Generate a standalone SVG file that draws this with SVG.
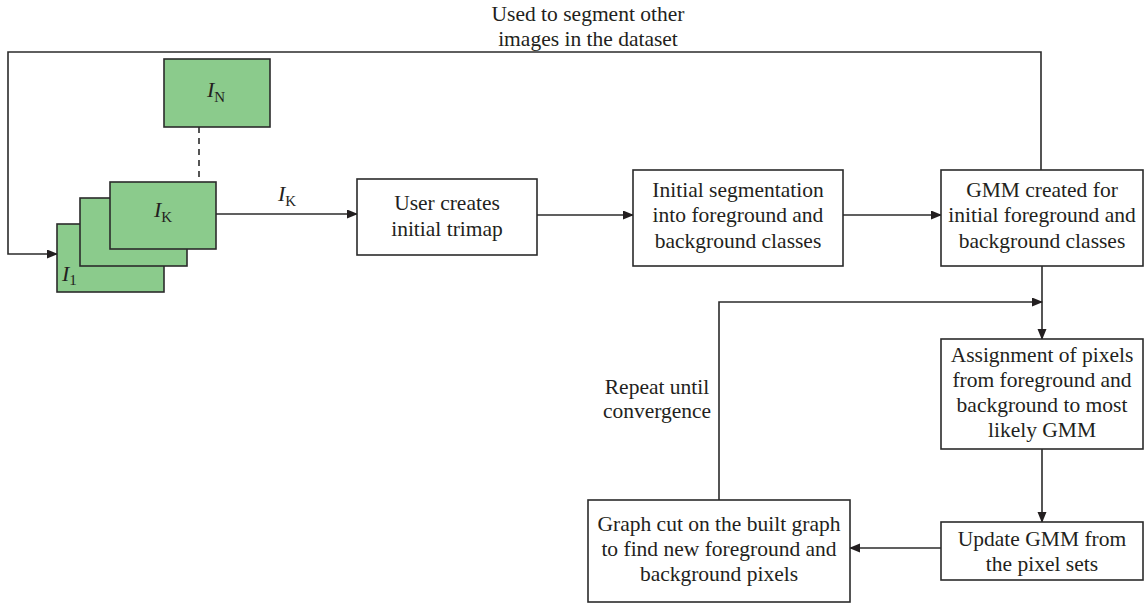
<svg xmlns="http://www.w3.org/2000/svg" width="1146" height="606" viewBox="0 0 1146 606">
<style>
.box{fill:#ffffff;stroke:#2b2b2b;stroke-width:1.6}
.img{fill:#8bcb8c;stroke:#2b2b2b;stroke-width:1.6}
.t{font-family:"Liberation Serif","Times New Roman",serif;font-size:21.5px;fill:#231f20;text-anchor:middle}
.m{font-family:"Liberation Serif","Times New Roman",serif;fill:#231f20}
.c{fill:none;stroke:#2b2b2b;stroke-width:1.6}
</style>
<defs>
<marker id="ah" markerWidth="11" markerHeight="10" refX="10" refY="4.5" orient="auto" markerUnits="userSpaceOnUse">
<path d="M0,0 L11,4.5 L0,9 z" fill="#231f20"/>
</marker>
</defs>
<rect width="1146" height="606" fill="#ffffff"/>
<g id="connectors">
<path class="c" d="M1041,170 V52 H8 V254 H57" marker-end="url(#ah)"/>
<path class="c" d="M199,127 V182" stroke-dasharray="6,5"/>
<path class="c" d="M216,214 H357" marker-end="url(#ah)"/>
<path class="c" d="M537,215 H633" marker-end="url(#ah)"/>
<path class="c" d="M843,215 H941" marker-end="url(#ah)"/>
<path class="c" d="M1042,266 V339" marker-end="url(#ah)"/>
<path class="c" d="M719,500 V302 H1042" marker-end="url(#ah)"/>
<path class="c" d="M1042,449 V522" marker-end="url(#ah)"/>
<path class="c" d="M941,548 H850" marker-end="url(#ah)"/>
<text class="t" x="588" y="21">Used to segment other</text>
<text class="t" x="588" y="46">images in the dataset</text>
<text class="m" x="278" y="201" font-size="22" font-style="italic">I<tspan font-size="15" font-style="normal" dy="5">K</tspan></text>
<text class="t" x="657" y="394">Repeat until</text>
<text class="t" x="657" y="418">convergence</text>
</g>
<g id="image-N">
<rect class="img" x="164" y="59" width="106" height="68"/>
<text class="m" x="207" y="97" font-size="22" font-style="italic">I<tspan font-size="15" font-style="normal" dy="5">N</tspan></text>
</g>
<g id="image-1">
<rect class="img" x="57" y="224" width="107" height="68"/>
<text class="m" x="62" y="281" font-size="22" font-style="italic">I<tspan font-size="15" font-style="normal" dy="4">1</tspan></text>
</g>
<g id="image-mid">
<rect class="img" x="80" y="198" width="107" height="68"/>
</g>
<g id="image-K">
<rect class="img" x="110" y="182" width="106" height="67"/>
<text class="m" x="154" y="217" font-size="22" font-style="italic">I<tspan font-size="15" font-style="normal" dy="5">K</tspan></text>
</g>
<g id="user-trimap">
<rect class="box" x="357" y="179" width="180" height="76"/>
<text class="t" x="447" y="210">User creates</text>
<text class="t" x="447" y="236">initial trimap</text>
</g>
<g id="initial-seg">
<rect class="box" x="633" y="170" width="210" height="96"/>
<text class="t" x="738" y="197">Initial segmentation</text>
<text class="t" x="738" y="222">into foreground and</text>
<text class="t" x="738" y="248">background classes</text>
</g>
<g id="gmm-created">
<rect class="box" x="941" y="170" width="202" height="96"/>
<text class="t" x="1042" y="197">GMM created for</text>
<text class="t" x="1042" y="222">initial foreground and</text>
<text class="t" x="1042" y="248">background classes</text>
</g>
<g id="assignment">
<rect class="box" x="941" y="339" width="202" height="110"/>
<text class="t" x="1042" y="362">Assignment of pixels</text>
<text class="t" x="1042" y="387">from foreground and</text>
<text class="t" x="1042" y="412">background to most</text>
<text class="t" x="1042" y="437">likely GMM</text>
</g>
<g id="update-gmm">
<rect class="box" x="941" y="522" width="202" height="58"/>
<text class="t" x="1042" y="546">Update GMM from</text>
<text class="t" x="1042" y="571">the pixel sets</text>
</g>
<g id="graph-cut">
<rect class="box" x="588" y="500" width="262" height="102"/>
<text class="t" x="719" y="531">Graph cut on the built graph</text>
<text class="t" x="719" y="556">to find new foreground and</text>
<text class="t" x="719" y="581">background pixels</text>
</g>
</svg>
